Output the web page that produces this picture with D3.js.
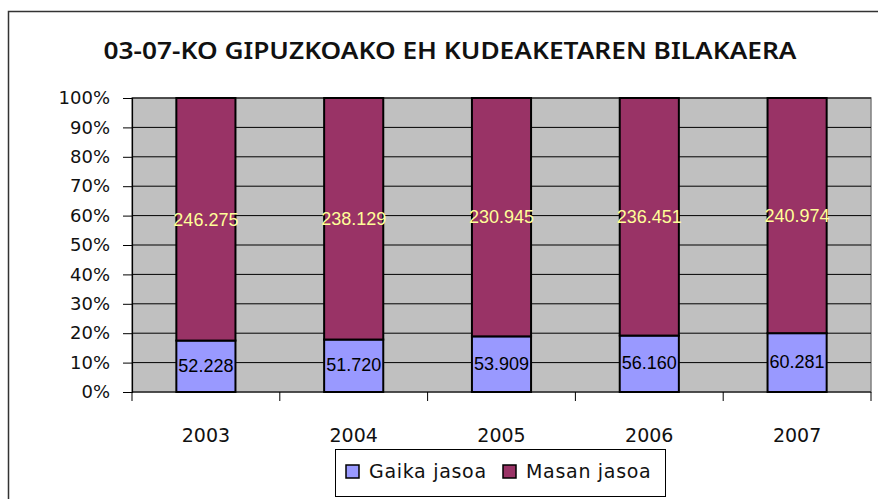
<!DOCTYPE html>
<html>
<head>
<meta charset="utf-8">
<script src="https://cdn.jsdelivr.net/npm/d3@7"></script>
<style>
  body { margin: 0; background: #fff; }
  svg text { font-family: "DejaVu Sans", sans-serif; }
</style>
</head>
<body>
<svg id="chart" width="878" height="499"></svg>
<script>
// data
const years = ["2003", "2004", "2005", "2006", "2007"];
const gaika = [52228, 51720, 53909, 56160, 60281];
const masan = [246275, 238129, 230945, 236451, 240974];
const gaikaLabels = ["52.228", "51.720", "53.909", "56.160", "60.281"];
const masanLabels = ["246.275", "238.129", "230.945", "236.451", "240.974"];
const seriesNames = ["Gaika jasoa", "Masan jasoa"];
const yTicks = [0, 0.1, 0.2, 0.3, 0.4, 0.5, 0.6, 0.7, 0.8, 0.9, 1];

const colors = {gaika: "#9999ff", masan: "#993366"};

const svg = d3.select("#chart");

// chart area border
svg.append("rect")
    .attr("x", 8.5).attr("y", 11.5)
    .attr("width", 900).attr("height", 520)
    .attr("fill", "#fff")
    .attr("stroke", "#333").attr("stroke-width", 1.5);

// title
svg.append("text")
    .attr("x", 450).attr("y", 59)
    .attr("text-anchor", "middle")
    .style("font-family", "'Noto Sans', 'Open Sans', sans-serif")
    .attr("font-size", 24)
    .attr("font-weight", 600)
    .attr("textLength", 693)
    .attr("lengthAdjust", "spacingAndGlyphs")
    .attr("fill", "#111")
    .text("03-07-KO GIPUZKOAKO EH KUDEAKETAREN BILAKAERA");

const plot = {left: 132, top: 98, right: 871, bottom: 392};

const x = d3.scaleBand()
    .domain(years)
    .range([plot.left, plot.right])
    .paddingInner(0.6)
    .paddingOuter(0.3);

const y = d3.scaleLinear()
    .domain([0, 1])
    .range([plot.bottom, plot.top]);

// plot background
svg.append("rect")
    .attr("x", plot.left).attr("y", plot.top)
    .attr("width", plot.right - plot.left)
    .attr("height", plot.bottom - plot.top)
    .attr("fill", "#c0c0c0")
    .attr("stroke", "#808080").attr("stroke-width", 1.5);

// gridlines
svg.append("g")
    .selectAll("line")
    .data(yTicks.filter(d => d > 0))
    .join("line")
    .attr("x1", plot.left).attr("x2", plot.right)
    .attr("y1", d => y(d)).attr("y2", d => y(d))
    .attr("stroke", "#000").attr("stroke-width", 1);

// y axis
const yAxis = svg.append("g")
    .attr("transform", `translate(${plot.left},0)`)
    .call(d3.axisLeft(y).tickValues(yTicks).tickFormat(d3.format(".0%")).tickSize(9).tickPadding(13));
yAxis.select(".domain").attr("stroke", "#000").attr("stroke-width", 1.2);
yAxis.selectAll(".tick line").attr("stroke", "#000");
yAxis.selectAll(".tick text").attr("font-size", 18).attr("fill", "#111")
    .attr("font-family", "DejaVu Sans");

// x axis with ticks at band boundaries
const xAxis = svg.append("g")
    .attr("transform", `translate(0,${plot.bottom})`);
xAxis.append("line")
    .attr("x1", plot.left).attr("x2", plot.right)
    .attr("stroke", "#000").attr("stroke-width", 1.2);
const bounds = d3.range(years.length + 1).map(i => plot.left + i * (plot.right - plot.left) / years.length);
xAxis.selectAll("line.tk")
    .data(bounds)
    .join("line")
    .attr("class", "tk")
    .attr("x1", d => d).attr("x2", d => d)
    .attr("y1", 0).attr("y2", 9)
    .attr("stroke", "#000");
xAxis.selectAll("text")
    .data(years)
    .join("text")
    .attr("x", d => x(d) + x.bandwidth() / 2)
    .attr("y", 50)
    .attr("text-anchor", "middle")
    .attr("font-size", 19)
    .attr("fill", "#111")
    .text(d => d);

// stacked percentages
const rows = years.map((yr, i) => {
    const tot = gaika[i] + masan[i];
    return {year: yr, g: gaika[i] / tot, m: masan[i] / tot, gl: gaikaLabels[i], ml: masanLabels[i]};
});

const bars = svg.append("g");
bars.selectAll("rect.gaika")
    .data(rows)
    .join("rect")
    .attr("class", "gaika")
    .attr("x", d => x(d.year))
    .attr("y", d => y(d.g))
    .attr("width", x.bandwidth())
    .attr("height", d => y(0) - y(d.g))
    .attr("fill", colors.gaika)
    .attr("stroke", "#000").attr("stroke-width", 2);

bars.selectAll("rect.masan")
    .data(rows)
    .join("rect")
    .attr("class", "masan")
    .attr("x", d => x(d.year))
    .attr("y", d => y(1))
    .attr("width", x.bandwidth())
    .attr("height", d => y(d.g) - y(1))
    .attr("fill", colors.masan)
    .attr("stroke", "#000").attr("stroke-width", 2);

// data labels
bars.selectAll("text.gl")
    .data(rows)
    .join("text")
    .attr("class", "gl")
    .attr("x", d => x(d.year) + x.bandwidth() / 2)
    .attr("y", d => y(d.g / 2))
    .attr("dy", "0.3em")
    .attr("text-anchor", "middle")
    .style("font-family", "'Liberation Sans', Arial, sans-serif")
    .attr("font-size", 18)
    .attr("fill", "#000")
    .text(d => d.gl);

bars.selectAll("text.ml")
    .data(rows)
    .join("text")
    .attr("class", "ml")
    .attr("x", d => x(d.year) + x.bandwidth() / 2)
    .attr("y", d => y(d.g + d.m / 2))
    .attr("dy", "0.35em")
    .attr("text-anchor", "middle")
    .style("font-family", "'Liberation Sans', Arial, sans-serif")
    .attr("font-size", 18)
    .attr("fill", "#ffff99")
    .text(d => d.ml);

// legend
const legend = svg.append("g");
legend.append("rect")
    .attr("x", 335.5).attr("y", 449.5)
    .attr("width", 330).attr("height", 47)
    .attr("fill", "#fff")
    .attr("stroke", "#000").attr("stroke-width", 1);
const legX = [346, 503];
const legItems = legend.selectAll("g.item")
    .data(seriesNames)
    .join("g")
    .attr("class", "item")
    .attr("transform", (d, i) => `translate(${legX[i]},0)`);
legItems.append("rect")
    .attr("x", 0).attr("y", 465)
    .attr("width", 13).attr("height", 13)
    .attr("fill", (d, i) => i === 0 ? colors.gaika : colors.masan)
    .attr("stroke", "#000").attr("stroke-width", 1.5);
legItems.append("text")
    .attr("x", 23).attr("y", 478)
    .attr("font-size", 19)
    .attr("letter-spacing", 0.7)
    .attr("fill", "#111")
    .text(d => d);
</script>
</body>
</html>
